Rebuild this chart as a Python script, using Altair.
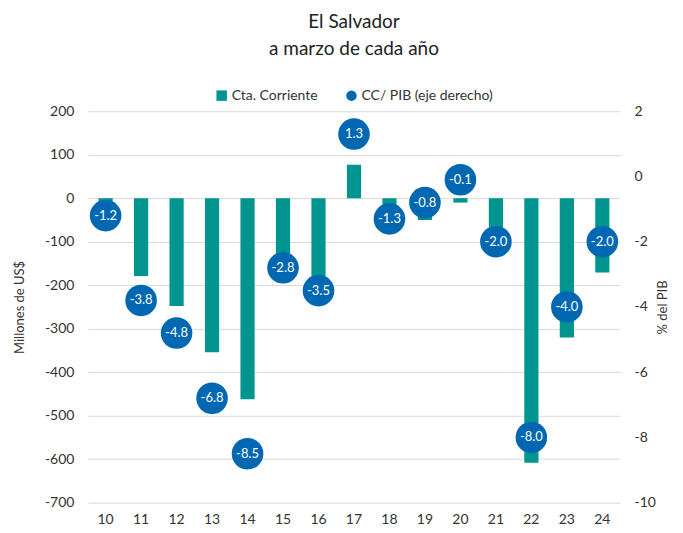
import altair as alt
import pandas as pd

years = ["10", "11", "12", "13", "14", "15", "16", "17", "18", "19", "20", "21", "22", "23", "24"]
cta_corriente = [-30, -179, -248, -354, -462, -145, -190, 77, -15, -50, -10, -95, -608, -320, -171]
cc_pib = [-1.2, -3.8, -4.8, -6.8, -8.5, -2.8, -3.5, 1.3, -1.3, -0.8, -0.1, -2.0, -8.0, -4.0, -2.0]
series_names = ["Cta. Corriente", "CC/ PIB (eje derecho)"]

TEAL = "#00968F"
BLUE = "#0068B3"
FONT = "Lato"
TXT = "#333333"

df = pd.DataFrame({
    "year": years,
    "cta": cta_corriente,
    "pib": cc_pib,
    "pib_label": [f"{v:.1f}" for v in cc_pib],
})
legend_df = pd.DataFrame({"serie": series_names})

fix_minus = "replace(datum.label, '\u2212', '-')"

x = alt.X("year:N", sort=years, title=None,
          scale=alt.Scale(paddingInner=0.6, paddingOuter=0.3),
          axis=alt.Axis(labelAngle=0, domain=False, ticks=False, labelPadding=10,
                        labelFontSize=14, labelColor=TXT, labelFont=FONT))

legend_kw = dict(title=None, orient="none", direction="horizontal",
                 legendX=127, legendY=-23, labelFontSize=14, labelFont=FONT,
                 labelColor=TXT, symbolSize=110, symbolOpacity=1,
                 columnPadding=24, labelOffset=3)
color = alt.Color("serie:N", scale=alt.Scale(domain=series_names, range=[TEAL, BLUE]),
                  legend=alt.Legend(**legend_kw))
shape = alt.Shape("serie:N", scale=alt.Scale(domain=series_names, range=["square", "circle"]),
                  legend=alt.Legend(**legend_kw))

base = alt.Chart(df)

bars = base.mark_bar(color=TEAL).encode(
    x=x,
    y=alt.Y("cta:Q", title="Millones de US$",
            scale=alt.Scale(domain=[-700, 200], nice=False),
            axis=alt.Axis(values=list(range(-700, 201, 100)), domain=False, ticks=False,
                          gridColor="#D9D9D9", labelFontSize=14, labelColor=TXT,
                          labelFont=FONT, labelPadding=14, labelExpr=fix_minus,
                          titleFont=FONT, titleFontSize=13, titleFontWeight="normal",
                          titleColor=TXT, titlePadding=18)),
)

pts = base.mark_point(filled=True, opacity=1, size=1000, color=BLUE, strokeWidth=0).encode(
    x=x,
    y=alt.Y("pib:Q", title="% del PIB",
            scale=alt.Scale(domain=[-10, 2], nice=False),
            axis=alt.Axis(orient="right", values=list(range(-10, 3, 2)), domain=False,
                          ticks=False, grid=False, labelFontSize=14, labelColor=TXT,
                          labelFont=FONT, labelPadding=14, labelExpr=fix_minus,
                          titleFont=FONT, titleFontSize=13, titleFontWeight="normal",
                          titleColor=TXT, titleAngle=270, titlePadding=14)),
)

txt = base.mark_text(color="white", fontSize=13, font=FONT).encode(
    x=x,
    y=alt.Y("pib:Q", scale=alt.Scale(domain=[-10, 2], nice=False), axis=None),
    text="pib_label:N",
)

leg = alt.Chart(legend_df).mark_point(filled=True, opacity=0).encode(
    color=color, shape=shape,
)

chart = alt.layer(bars, pts, txt, leg).resolve_scale(y="independent").properties(
    width=533, height=392,
    title=alt.TitleParams(["El Salvador", "a marzo de cada año"], fontSize=19, font=FONT,
                          fontWeight="normal", color="#222222", anchor="middle",
                          lineHeight=27, offset=29),
).configure_view(stroke=None)

chart.save("out.html", embed_options={"renderer": "svg", "actions": False})
